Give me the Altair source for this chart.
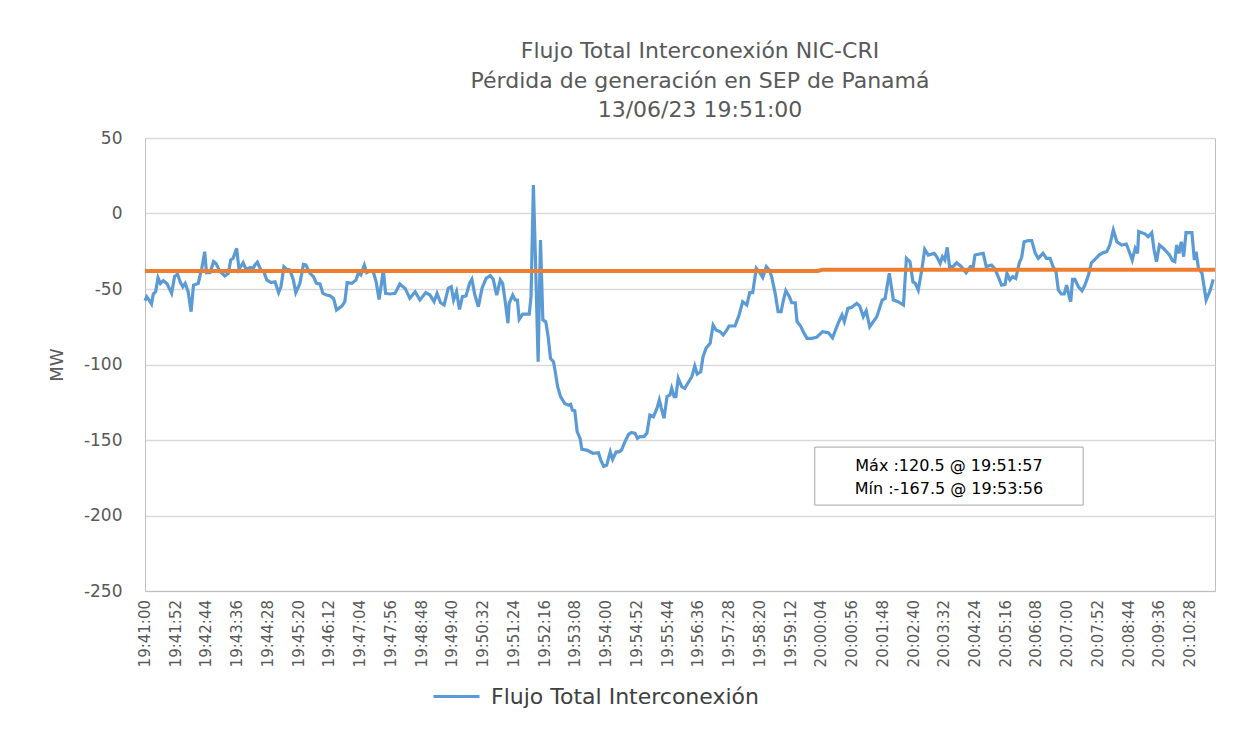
import altair as alt
import pandas as pd

START_LABEL = "19:41:00"
END_OFFSET = 1810  # seconds after 19:41:00 at right edge of plot

SERIES_NAME = "Flujo Total Interconexión"

# seconds after 19:41:00
t_offsets = [
    0, 3, 11, 14, 18, 22, 26, 31, 37, 45, 50, 55, 60, 64, 68, 73, 78, 82, 90, 96,
    101, 104, 110, 116, 120, 127, 135, 141, 145, 149, 155, 159, 166, 171, 178, 183, 186, 190, 196, 201,
    206, 213, 220, 226, 230, 235, 240, 245, 251, 255, 262, 268, 272, 279, 285, 290, 296, 301, 307, 313,
    319, 324, 333, 338, 342, 350, 357, 361, 365, 371, 375, 381, 386, 391, 396, 400, 403, 407, 414, 423,
    431, 440, 448, 457, 465, 475, 482, 489, 494, 500, 506, 513, 518, 522, 527, 532, 537, 543, 549, 553,
    558, 564, 570, 577, 584, 589, 595, 601, 605, 609, 614,
    616, 622, 626, 630, 633, 639, 645, 650, 653, 657, 661, 665, 669, 673, 678, 682, 686, 691, 694, 698,
    703, 710, 716, 720, 723, 727, 731, 736, 739, 747, 753, 758, 767, 771, 776, 781, 787, 791, 797, 802,
    806, 812, 818, 823, 829, 833, 837, 844, 849, 854, 860, 866, 870, 873, 878, 883, 888, 891, 895, 898,
    902, 908, 913,
    925, 930, 934, 940, 944, 949, 956, 961, 966, 973, 978, 984, 988, 998, 1005, 1011, 1018, 1023, 1028, 1034,
    1039, 1045, 1051, 1056, 1060, 1066, 1071, 1076, 1080, 1084, 1090, 1094, 1100, 1103, 1109, 1115, 1120, 1128, 1136, 1146,
    1156, 1163, 1167, 1173, 1179, 1183, 1189, 1195, 1204, 1209, 1215, 1220, 1226,
    1238, 1247, 1252, 1259, 1266, 1274, 1283, 1288, 1294, 1299, 1303, 1308, 1314, 1319, 1325, 1335, 1340, 1345, 1349, 1353,
    1357, 1361, 1367, 1373, 1381, 1389, 1396, 1401, 1404, 1412, 1418, 1423, 1432, 1438, 1442, 1449, 1455, 1458, 1463, 1468,
    1473, 1479, 1483, 1487, 1494, 1500, 1506, 1511, 1519,
    1525, 1531, 1536, 1541, 1545, 1550, 1555, 1559, 1564, 1566, 1569, 1573, 1579, 1585, 1590, 1596, 1601, 1607, 1614, 1621,
    1627, 1632, 1638, 1644, 1652, 1660, 1665, 1670, 1675, 1679, 1681, 1692, 1697, 1703, 1707, 1711, 1716, 1723, 1728, 1733,
    1738, 1742, 1745, 1749, 1753, 1757, 1761, 1771, 1775, 1778, 1782, 1788, 1795, 1802, 1807,
]

flujo_mw = [
    -57.7, -55.1, -59.9, -53.3, -51.8, -42.5, -46.3, -44.5, -46.3, -52.9, -41.8, -40.1, -45.8, -48.5, -46.3, -51.8, -65.0, -47.4, -46.3, -36.3,
    -25.3, -39.2, -39.2, -31.9, -33.0, -38.5, -41.4, -39.6, -30.8, -29.7, -23.1, -37.0, -32.6, -37.0, -35.7, -36.3, -34.1, -32.3, -37.4, -38.5,
    -44.0, -45.8, -45.2, -52.4, -48.5, -35.2, -37.0, -37.4, -44.0, -52.4, -46.3, -33.7, -34.1, -39.6, -41.8, -46.3, -46.7, -52.9, -54.0, -54.4,
    -56.2, -63.9, -61.3, -58.4, -45.8, -46.3, -44.0, -39.2, -40.7, -34.1, -39.2, -37.9, -38.5, -45.2, -56.9, -46.3, -37.0, -52.9, -53.3, -52.9,
    -46.7, -49.6, -56.2, -51.8, -57.3, -52.4, -54.0, -58.4, -52.9, -59.1, -60.6, -49.6, -48.5, -57.3, -51.8, -63.5, -55.1, -54.6, -46.3, -43.6,
    -54.0, -61.7, -49.6, -42.9, -41.2, -43.6, -54.0, -44.0, -46.3, -57.3, -72.7,
    -59.5, -54.0, -57.3, -57.3, -70.1, -66.6, -66.6, -66.6, -55.1, 18.9, -37.4, -98.2, -17.6, -70.5, -71.7, -81.6, -96.0, -98.2, -104.8, -114.7,
    -121.3, -125.8, -126.9, -126.4, -130.2, -130.6, -144.5, -148.9, -156.2, -156.7, -157.8, -158.9, -158.4, -163.3, -167.5, -166.6, -157.8, -162.8, -157.8, -157.8,
    -156.7, -151.1, -146.3, -145.0, -145.6, -148.9, -147.8, -147.8, -145.6, -133.5, -134.6, -129.1, -123.5, -128.4, -135.7, -121.3, -120.2, -115.8, -121.3, -121.3,
    -109.2, -114.7, -115.8,
    -108.1, -101.0, -106.3, -104.8, -94.8, -89.3, -86.0, -73.9, -77.2, -78.3, -80.5, -77.2, -74.5, -74.5, -67.2, -58.4, -60.6, -52.4, -52.4, -36.3,
    -38.5, -42.3, -35.2, -37.4, -41.8, -52.9, -65.0, -65.0, -57.3, -51.1, -55.1, -59.1, -59.1, -71.6, -74.5, -79.4, -82.7, -82.7, -82.0, -78.3,
    -79.0, -82.3, -78.3, -72.3, -67.2, -71.6, -62.8, -62.2, -59.5, -61.3, -68.3, -64.4, -75.0,
    -68.3, -57.3, -56.2, -39.6, -57.3, -58.4, -60.6, -29.7, -31.9, -45.2, -46.3, -50.7, -37.4, -23.7, -27.5, -26.4, -29.0, -33.0, -28.6, -30.8,
    -22.4, -35.2, -35.2, -32.6, -35.2, -39.2, -35.2, -35.2, -27.5, -26.8, -26.4, -35.2, -34.1, -37.0, -40.7, -47.4, -46.9, -39.6, -44.0, -41.8,
    -43.0, -32.6, -29.0, -18.7, -18.0, -18.0, -26.4, -29.7, -26.4,
    -29.7, -29.7, -35.2, -38.5, -50.7, -53.3, -53.3, -47.4, -56.2, -58.4, -43.6, -43.6, -48.5, -51.1, -47.4, -40.7, -32.6, -30.4, -27.5, -25.9,
    -25.3, -20.9, -10.9, -18.7, -20.9, -20.2, -25.3, -30.8, -23.1, -26.4, -12.0, -13.6, -15.4, -12.7, -24.2, -31.9, -20.9, -23.1, -25.3, -27.5,
    -31.2, -31.9, -20.9, -26.4, -18.7, -28.6, -12.7, -12.7, -30.8, -25.3, -36.3, -39.6, -57.3, -50.7, -43.6,
]

# reference (orange) line
ref_offsets = [0, 1138, 1146, 1810]
ref_mw = [-38.1, -38.1, -37.2, -37.2]

tick_labels = [
    "19:41:00", "19:41:52", "19:42:44", "19:43:36", "19:44:28", "19:45:20", "19:46:12",
    "19:47:04", "19:47:56", "19:48:48", "19:49:40", "19:50:32", "19:51:24", "19:52:16",
    "19:53:08", "19:54:00", "19:54:52", "19:55:44", "19:56:36", "19:57:28", "19:58:20",
    "19:59:12", "20:00:04", "20:00:56", "20:01:48", "20:02:40", "20:03:32", "20:04:24",
    "20:05:16", "20:06:08", "20:07:00", "20:07:52", "20:08:44", "20:09:36", "20:10:28",
]
y_ticks = [-250, -200, -150, -100, -50, 0, 50]

title_lines = [
    "Flujo Total Interconexión NIC-CRI",
    "Pérdida de generación en SEP de Panamá",
    "13/06/23 19:51:00",
]

note_lines = ["Máx :120.5 @ 19:51:57", "Mín :-167.5 @ 19:53:56"]
note_box_offsets = [1133, 1587]   # seconds after 19:41:00
note_box_mw = [-154.7, -193.1]
note_text_offset = 1360
note_text_mw = [-167.2, -182.5]

FONT = "DejaVu Sans"
GRAY = "#595959"
PLOT_W, PLOT_H = 1070, 453


def to_sec(lbl):
    h, m, s = (int(p) for p in lbl.split(":"))
    h0, m0, s0 = (int(p) for p in START_LABEL.split(":"))
    return (h * 3600 + m * 60 + s) - (h0 * 3600 + m0 * 60 + s0)


tick_values = [to_sec(l) for l in tick_labels]

df = pd.DataFrame({"seg": t_offsets, "MW": flujo_mw, "serie": SERIES_NAME})
ref_df = pd.DataFrame({"seg": ref_offsets, "MW": ref_mw, "i": list(range(len(ref_mw)))})
box_df = pd.DataFrame({"x1": [note_box_offsets[0]], "x2": [note_box_offsets[1]],
                       "y1": [note_box_mw[0]], "y2": [note_box_mw[1]]})
text_df = pd.DataFrame({"seg": [note_text_offset] * 2, "MW": note_text_mw, "txt": note_lines})
tick_df = pd.DataFrame({"seg": tick_values, "lbl": tick_labels})

x_scale = alt.Scale(domain=[0, END_OFFSET], nice=False, zero=False)
y_scale = alt.Scale(domain=[-250, 50], nice=False, zero=False)

x_axis = alt.Axis(
    values=tick_values, labels=False, title=None,
    ticks=False, grid=False, domainColor="#bfbfbf", domainWidth=1,
)
y_axis = alt.Axis(
    values=y_ticks, title="MW", labelExpr="'' + datum.value",
    labelFont=FONT, labelFontSize=17, labelColor=GRAY, labelPadding=23,
    titleFont=FONT, titleFontSize=18, titleFontWeight="normal", titleColor=GRAY,
    titlePadding=17, ticks=False, domain=False, grid=True,
    gridColor="#d9d9d9", gridWidth=1.3,
)

flujo = alt.Chart(df).mark_line(strokeWidth=3.2, interpolate="linear").encode(
    x=alt.X("seg:Q", scale=x_scale, axis=x_axis),
    y=alt.Y("MW:Q", scale=y_scale, axis=y_axis),
    color=alt.Color("serie:N", scale=alt.Scale(range=["#5B9BD5"]),
                    legend=alt.Legend(
                        orient="none", legendX=287, legendY=534, title=None,
                        symbolType="stroke", symbolSize=2116, symbolStrokeWidth=3,
                        labelFont=FONT, labelFontSize=22, labelColor="#404040",
                        labelOffset=10, padding=0, labelLimit=500)),
)

ref = alt.Chart(ref_df).mark_line(strokeWidth=4, color="#ED7D31").encode(
    x=alt.X("seg:Q"), y=alt.Y("MW:Q"), order="i:Q",
)

box = alt.Chart(box_df).mark_rect(fill="white", stroke="#a6a6a6", strokeWidth=1).encode(
    x=alt.X("x1:Q"), x2="x2:Q", y=alt.Y("y1:Q"), y2="y2:Q",
)
note = alt.Chart(text_df).mark_text(font=FONT, fontSize=16, color="#000000",
                                    align="center", baseline="middle").encode(
    x=alt.X("seg:Q"), y=alt.Y("MW:Q"), text="txt:N",
)

# rotated time labels under the x axis
tick_text = alt.Chart(tick_df).mark_text(
    font=FONT, fontSize=15, color=GRAY, angle=270, align="right", baseline="middle",
).encode(
    x=alt.X("seg:Q"), y=alt.value(PLOT_H + 9), text="lbl:N",
)

chart = alt.layer(flujo, ref, box, note, tick_text).properties(
    width=PLOT_W, height=PLOT_H,
    title=alt.Title(text=title_lines, font=FONT, fontSize=22, fontWeight="normal",
                    color=GRAY, anchor="middle", dx=20, offset=7, lineHeight=29.5),
    autosize=alt.AutoSizeParams(type="none"),
    padding={"left": 137, "top": 130, "right": 34, "bottom": 155},
).configure_view(stroke="#bfbfbf", strokeWidth=1)

chart.save("out.html", embed_options={"renderer": "svg", "actions": False})
